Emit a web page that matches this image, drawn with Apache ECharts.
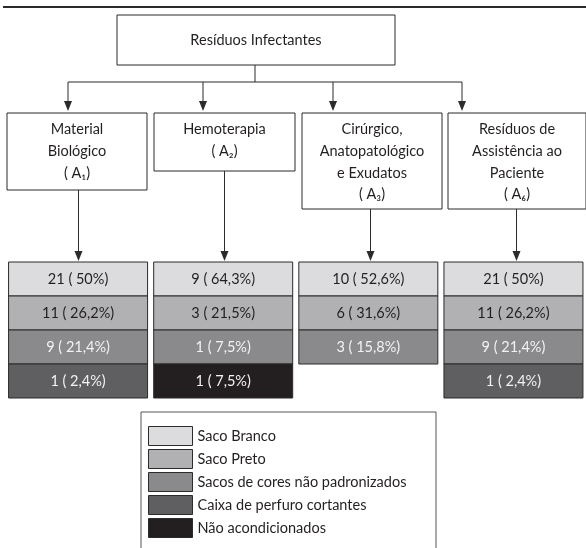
<!DOCTYPE html>
<html><head><meta charset="utf-8">
<script src="https://cdn.jsdelivr.net/npm/echarts@6/dist/echarts.min.js"></script>
<style>html,body{margin:0;padding:0;background:#fff}#main{width:586px;height:548px}</style>
</head><body><div id="main"></div>
<script>
// ---- data ----
const title = 'Resíduos Infectantes';
const groups = ['A1', 'A2', 'A3', 'A6'];
const groupLabels = [
  ['Material', 'Biológico', '( A₁)'],
  ['Hemoterapia', '( A₂)'],
  ['Cirúrgico,', 'Anatopatológico', 'e Exudatos', '( A₃)'],
  ['Resíduos de', 'Assistência ao', 'Paciente', '( A₆)']
];
const categories = ['Saco Branco', 'Saco Preto', 'Sacos de cores não padronizados', 'Caixa de perfuro cortantes', 'Não acondicionados'];
const rows = ['1', '2', '3', '4'];
// per group: category of each row, count, percentage
const catsA1 = [0, 1, 2, 3], countsA1 = [21, 11, 9, 1], pctA1 = [50, 26.2, 21.4, 2.4];
const catsA2 = [0, 1, 2, 4], countsA2 = [9, 3, 1, 1], pctA2 = [64.3, 21.5, 7.5, 7.5];
const catsA3 = [0, 1, 2], countsA3 = [10, 6, 3], pctA3 = [52.6, 31.6, 15.8];
const catsA6 = [0, 1, 2, 3], countsA6 = [21, 11, 9, 1], pctA6 = [50, 26.2, 21.4, 2.4];

// ---- styles / layout ----
const FONT = 'Lato';
const FS = 14.5;
const colors = ['#dcdcde', '#b1b1b4', '#8a8a8d', '#5f5f61', '#231f20'];
const textColors = ['#231f20', '#231f20', '#f2f2f2', '#f2f2f2', '#f2f2f2'];
const LINE = '#2b2b2b';
const boxX = [7, 154, 302, 448], boxW = [140, 141, 140, 138], boxBottom = [190, 171, 209, 209];
const boxTop = 113, branchY = 82, topArrowX = [68, 203, 333, 462];
const cellTop = 262, cellW = 139;

const allCats = [catsA1, catsA2, catsA3, catsA6];
const allCounts = [countsA1, countsA2, countsA3, countsA6];
const allPct = [pctA1, pctA2, pctA3, pctA6];
const fmtPct = v => String(v).replace('.', ',');

const series = categories.map((name, c) => {
  const data = [];
  allCats.forEach((cats, g) => cats.forEach((cc, r) => {
    if (cc === c) data.push([g, r, allCounts[g][r], allPct[g][r]]);
  }));
  return {
    type: 'custom', name, data, itemStyle: { color: colors[c] },
    renderItem: (params, api) => {
      const p = api.coord([api.value(0), api.value(1)]);
      const s = api.size([1, 1]);
      return {
        type: 'group', children: [{
          type: 'rect',
          shape: { x: p[0] - cellW / 2, y: p[1] - s[1] / 2, width: cellW, height: s[1] },
          style: { fill: colors[c], stroke: LINE, lineWidth: 1 }
        }, {
          type: 'text', x: p[0], y: p[1],
          style: { text: api.value(2) + ' ( ' + fmtPct(api.value(3)) + '%)', fill: textColors[c],
            font: FS + 'px ' + FONT, textAlign: 'center', textVerticalAlign: 'middle' }
        }]
      };
    }
  };
});

const graphics = [];
const line = (x1, y1, x2, y2, w) => graphics.push({ type: 'line', shape: { x1, y1, x2, y2 }, style: { stroke: LINE, lineWidth: w || 1 } });
const arrow = (x, y1, tip) => {
  line(x, y1, x, tip - 8);
  graphics.push({ type: 'polygon', shape: { points: [[x - 4, tip - 10], [x + 4, tip - 10], [x, tip]] }, style: { fill: LINE } });
};
line(3, 7, 586, 7, 2);
graphics.push({ type: 'rect', shape: { x: 117, y: 15, width: 278, height: 50 }, style: { fill: '#fff', stroke: LINE, lineWidth: 1 } });
graphics.push({ type: 'text', x: 256, y: 40, style: { text: title, font: FS + 'px ' + FONT, fill: '#231f20', textAlign: 'center', textVerticalAlign: 'middle' } });
line(255, 65, 255, branchY);
line(topArrowX[0], branchY, topArrowX[3], branchY);
topArrowX.forEach(x => arrow(x, branchY, 111));
groups.forEach((g, i) => {
  graphics.push({ type: 'rect', shape: { x: boxX[i], y: boxTop, width: boxW[i], height: boxBottom[i] - boxTop }, style: { fill: '#fff', stroke: LINE, lineWidth: 1 } });
  graphics.push({ type: 'text', x: boxX[i] + boxW[i] / 2, y: 119, style: { text: groupLabels[i].join('\n'), font: FS + 'px ' + FONT, lineHeight: 21.6, fill: '#231f20', textAlign: 'center', textVerticalAlign: 'top' } });
  const cx = 5.5 + 146 * i + 73;
  arrow(cx, boxBottom[i], cellTop - 1);
});
graphics.push({ type: 'rect', shape: { x: 141, y: 412, width: 295, height: 160 }, style: { fill: 'none', stroke: '#555', lineWidth: 1 } });

const chart = echarts.init(document.getElementById('main'));
chart.setOption({
  animation: false,
  backgroundColor: '#fff',
  grid: { left: 5.5, top: cellTop, width: 584, height: 136 },
  xAxis: { type: 'category', data: groups, show: false },
  yAxis: { type: 'category', data: rows, inverse: true, show: false },
  legend: {
    orient: 'vertical', left: 148, top: 426, padding: 0, itemWidth: 44, itemHeight: 19, itemGap: 3,
    icon: 'rect', selectedMode: false, data: categories,
    itemStyle: { borderColor: LINE, borderWidth: 1 },
    textStyle: { fontSize: FS, fontFamily: FONT, color: '#231f20', padding: [0, 0, 0, 0] }
  },
  graphic: graphics,
  series
});
</script></body></html>
